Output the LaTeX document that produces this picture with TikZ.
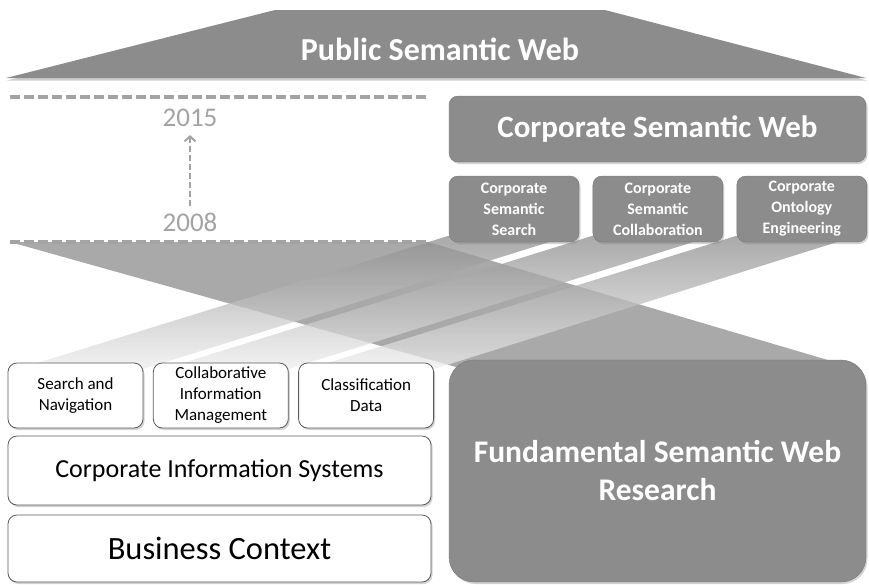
\documentclass[tikz,border=0pt]{standalone}
\usepackage{fontspec}
\setmainfont{Carlito}
\usetikzlibrary{positioning, arrows.meta, shadows, backgrounds}
\definecolor{swGray}{HTML}{8C8C8C}
\definecolor{swDash}{HTML}{A3A3A3}
\definecolor{swEdge}{HTML}{5A5A5A}
\newcommand{\fsz}[2]{\fontsize{#1}{#2}\selectfont}

\begin{document}
\begin{tikzpicture}[x=1pt, y=-1pt,
    dark/.style={draw=swGray!85!black, fill=swGray, rounded corners=9pt, text=white, align=center, inner sep=0pt,
      drop shadow={shadow xshift=1.5pt, shadow yshift=-2pt, opacity=0.35}},
    light/.style={draw=swEdge, line width=0.8pt, fill=white, rounded corners=9pt, align=center, inner sep=0pt,
      drop shadow={shadow xshift=1.5pt, shadow yshift=-2pt, opacity=0.35}},
    pillar/.style={dark, minimum width=130pt, minimum height=66pt, font=\bfseries\fsz{16}{21}},
    module/.style={light, minimum width=135pt, minimum height=65pt, font=\fsz{17}{21}},
    band/.style={top color=swGray, bottom color=gray!12, opacity=0.75},
    timeline/.style={swDash, line width=3.5pt, dash pattern=on 10pt off 4pt},
    year/.style={text=swDash, font=\fsz{27}{30}, inner sep=2pt},
  ]
  \useasboundingbox (0,0) rectangle (869,584);

  % timeline
  \coordinate (t15w) at (10,97);  \coordinate (t15e) at (428,97);
  \coordinate (t08w) at (10,242); \coordinate (t08e) at (428,242);
  \draw[timeline] (t15w) -- (t15e);
  \draw[timeline] (t08w) -- (t08e);
  \node[year] (y15) at (190,118) {2015};
  \node[year] (y08) at (190,222) {2008};
  \draw[swDash, line width=2pt, dash pattern=on 6pt off 3pt, -{Straight Barb[length=5pt, width=11pt]},
    shorten <=4pt, shorten >=6pt] (y08.north) -- (y15.south);

  % roof
  \fill[swGray, drop shadow={shadow xshift=1pt, shadow yshift=-2.5pt, opacity=0.4}]
    (275,10) -- (605,10) -- (866,78) -- (6,78) -- cycle;
  \node[text=white, font=\bfseries\fsz{32}{34}] (psw) at (440,49) {Public Semantic Web};

  % boxes placed first, bands go on the background behind them
  \node[dark, minimum width=417pt, minimum height=66pt, font=\bfseries\fsz{31}{34}] (csw) at (657.5,129) {Corporate Semantic Web};
  \node[pillar] (css) at (514,209) {Corporate\\Semantic\\Search};
  \node[pillar, right=13.5pt of css] (csc) {Corporate\\Semantic\\Collaboration};
  \node[pillar, right=13.5pt of csc] (coe) {Corporate\\Ontology\\Engineering};

  \node[module] (sn) at (75.5,395.5) {Search and\\Navigation};
  \node[module, right=9.5pt of sn] (cim) {Collaborative\\Information\\Management};
  \node[module, right=9.5pt of cim] (cd) {Classification\\Data};
  \node[light, minimum width=423pt, minimum height=69pt, font=\fsz{26}{28}] (cis) at (219.5,470.5) {Corporate Information Systems};
  \node[light, minimum width=423pt, minimum height=67pt, font=\fsz{32.5}{36}] (bc) at (219.5,548.5) {Business Context};
  \node[dark, rounded corners=25pt, minimum width=417pt, minimum height=222pt, font=\bfseries\fsz{31.5}{38}] (fswr) at (657.5,471)
    {Fundamental Semantic Web\\Research};

  % bands
  \begin{scope}[on background layer]
    \fill[swGray, opacity=0.75]
      (t08w) -- (t08e) -- ([shift={(-12,8)}]fswr.north east) -- ([shift={(10,8)}]fswr.north west) -- cycle;
    \foreach \up/\down in {css/sn, csc/cim, coe/cd}
      \shade[band] ([shift={(5,-8)}]\up.south west) -- ([shift={(-5,-8)}]\up.south east)
        -- ([shift={(-5,8)}]\down.north east) -- ([shift={(5,8)}]\down.north west) -- cycle;
  \end{scope}
\end{tikzpicture}
\end{document}
